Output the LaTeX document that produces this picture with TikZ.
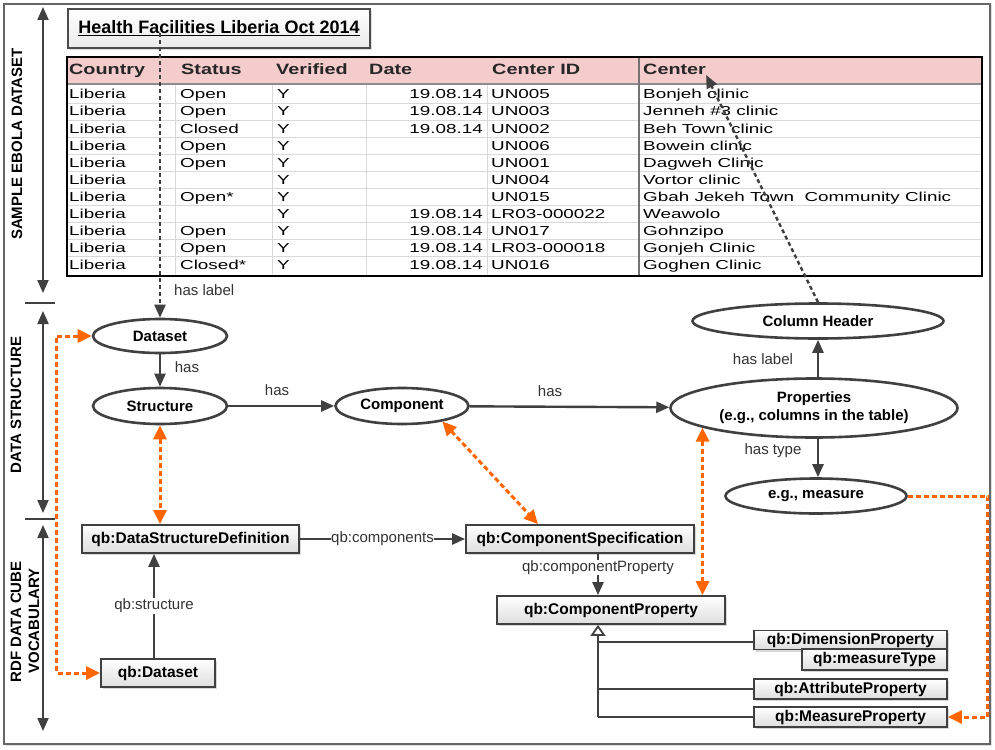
\documentclass[tikz,border=0pt]{standalone}
\usepackage{fontspec}
\setmainfont{Liberation Sans}
\newfontfamily\tabfont[FakeStretch=1.45]{Liberation Sans}
\newfontfamily\tabhfont[FakeStretch=1.32]{Liberation Sans}
\usetikzlibrary{shapes.geometric,arrows.meta,shadows,calc}
\definecolor{dg}{HTML}{404040}
\definecolor{org}{HTML}{FF6600}
\definecolor{hdr}{HTML}{F4CCCC}
\tikzset{
 ell/.style={ellipse, draw=dg, line width=2.6pt, fill=white, inner sep=0pt, align=center,
   font=\bfseries\fontsize{15}{18}\selectfont, text=black},
 qb/.style={rectangle, draw=dg, line width=1.8pt, top color=white, bottom color=black!13,
   inner sep=0pt, minimum height=28pt, font=\bfseries\fontsize{15.5}{18}\selectfont,
   drop shadow={shadow xshift=2pt, shadow yshift=-2pt, fill=black!30}},
 qbs/.style={qb, minimum height=20pt},
 lbl/.style={font=\fontsize{15}{18}\selectfont, text=black!80, inner sep=1pt},
 arr/.style={draw=dg, line width=2.4pt, -{Triangle[length=13pt,width=11pt]}},
 darr/.style={draw=dg, line width=2.4pt, dash pattern=on 4pt off 3pt, -{Triangle[length=13pt,width=11pt]}},
 oarr/.style={draw=org, line width=3pt, dash pattern=on 5pt off 3pt,
   {Triangle[length=14pt,width=13pt]}-{Triangle[length=14pt,width=13pt]}},
 oarrone/.style={draw=org, line width=3pt, dash pattern=on 5pt off 3pt,
   -{Triangle[length=14pt,width=13pt]}},
 axarr/.style={draw=dg, line width=2pt, {Triangle[length=13pt,width=11pt]}-{Triangle[length=13pt,width=11pt]}},
 tcell/.style={inner sep=0pt, anchor=west, text height=9.5pt, text depth=2.5pt,
   font=\tabfont\fontsize{13}{15}\selectfont, text=black},
 thcell/.style={inner sep=0pt, anchor=west, text height=11pt, text depth=3pt,
   font=\tabhfont\bfseries\fontsize{15}{17}\selectfont, text=black!85},
 axlbl/.style={rotate=90, inner sep=0pt, font=\bfseries\fontsize{15}{17}\selectfont, text=black},
}
\begin{document}
\begin{tikzpicture}[x=1pt,y=-1pt]
\useasboundingbox (0,0) rectangle (995,749);
% outer frame
\draw[line width=2.2pt, black!60, drop shadow={shadow xshift=1.5pt, shadow yshift=-1.5pt, fill=black!25}, fill=white] (4,4) rectangle (990,744);

% side axes
\coordinate (a1t) at (43,7);   \coordinate (a1b) at (43,293);
\coordinate (a2t) at (43,311); \coordinate (a2b) at (43,513);
\coordinate (a3t) at (43,525); \coordinate (a3b) at (43,731);
\coordinate (t1l) at (25,303); \coordinate (t1r) at (55,303);
\coordinate (t2l) at (25,519); \coordinate (t2r) at (55,519);
\draw[axarr] (a1t) -- (a1b);
\draw[axarr] (a2t) -- (a2b);
\draw[axarr] (a3t) -- (a3b);
\draw[dg, line width=2pt] (t1l) -- (t1r);
\draw[dg, line width=2pt] (t2l) -- (t2r);
\node[axlbl] (lab1) at (17,144) {SAMPLE EBOLA DATASET};
\node[axlbl] (lab2) at (16,405) {DATA STRUCTURE};
\node[axlbl] (lab3) at (16,622) {RDF DATA CUBE};
\node[axlbl] (lab4) at (34,621) {VOCABULARY};

% table
\fill[hdr] (67,57) rectangle (982,84);
\foreach \k in {1,...,10} {
  \draw[black!15, line width=1pt] (67,{86.5+17*\k}) -- (982,{86.5+17*\k});
}
\foreach \xx in {175,272,366,487} {
  \draw[black!15, line width=1pt] (\xx,84) -- (\xx,276);
}
\draw[black!45, line width=1.2pt] (67,84) -- (982,84);
\draw[black!55, line width=1.6pt] (639,57) -- (639,276);
\draw[black, line width=1.6pt] (67,57) rectangle (982,276);

\node[thcell] (hCountry) at (69,71) {Country};
\node[thcell] (hStatus) at (181,71) {Status};
\node[thcell] (hVerified) at (276,71) {Verified};
\node[thcell] (hDate) at (369,71) {Date};
\node[thcell] (hID) at (492,71) {Center ID};
\node[thcell] (hCenter) at (643,71) {Center};

\foreach \i/\s/\d/\c/\n in {
  1/Open/19.08.14/UN005/Bonjeh clinic,
  2/Open/19.08.14/UN003/Jenneh \#3 clinic,
  3/Closed/19.08.14/UN002/Beh Town clinic,
  4/Open/{}/UN006/Bowein clinic,
  5/Open/{}/UN001/Dagweh Clinic,
  6/{}/{}/UN004/Vortor clinic,
  7/Open*/{}/UN015/Gbah Jekeh Town\ \ Community Clinic,
  8/{}/19.08.14/LR03-000022/Weawolo,
  9/Open/19.08.14/UN017/Gohnzipo,
  10/Open/19.08.14/LR03-000018/Gonjeh Clinic,
  11/Closed*/19.08.14/UN016/Goghen Clinic}{
  \pgfmathsetmacro{\yy}{78.5+17*\i}
  \node[tcell] (co\i) at (69,\yy) {Liberia};
  \node[tcell] (st\i) at (180,\yy) {\s};
  \node[tcell] (ve\i) at (277,\yy) {Y};
  \node[tcell, anchor=east] (da\i) at (483,\yy) {\d};
  \node[tcell] (id\i) at (491,\yy) {\c};
  \node[tcell] (ce\i) at (643,\yy) {\n};
}

% title
\node[rectangle, draw=black!70, line width=1.4pt, top color=white, bottom color=black!8,
  minimum width=302pt, minimum height=39pt, inner sep=0pt,
  drop shadow={shadow xshift=2pt, shadow yshift=-2pt, fill=black!25},
  font=\bfseries\fontsize{18}{21}\selectfont] (title) at (219,28.5)
  {\underline{Health Facilities Liberia Oct 2014}};

% ellipses
\node[ell, minimum width=134pt, minimum height=34pt] (dataset) at (160,336) {Dataset};
\node[ell, minimum width=134pt, minimum height=36pt] (structure) at (160,406) {Structure};
\node[ell, minimum width=133pt, minimum height=36pt] (component) at (402,406) {Component};
\node[ell, minimum width=287pt, minimum height=59pt] (props) at (814,408) {Properties\\(e.g., columns in the table)};
\node[ell, minimum width=251pt, minimum height=35pt] (colhdr) at (818,321) {Column Header};
\node[ell, minimum width=181pt, minimum height=35pt] (measure) at (816,496) {e.g., measure};

% boxes
\node[qb, minimum width=217pt] (dsd) at (190.5,539) {qb:DataStructureDefinition};
\node[qb, minimum width=114pt] (qbds) at (158,673) {qb:Dataset};
\node[qb, minimum width=228pt] (cs) at (580,539) {qb:ComponentSpecification};
\node[qb, minimum width=228pt] (cp) at (611,610) {qb:ComponentProperty};
\node[qbs, minimum width=193pt, minimum height=19pt] (dp) at (850.5,640) {qb:DimensionProperty};
\node[qbs, minimum width=145pt, minimum height=21pt] (mt) at (874.5,659.5) {qb:measureType};
\node[qbs, minimum width=193pt] (ap) at (850.5,689) {qb:AttributeProperty};
\node[qbs, minimum width=193pt] (mp) at (850.5,717) {qb:MeasureProperty};

% dashed label connectors
\coordinate (hlstart) at (160,33);
\draw[darr] (hlstart) -- (dataset.north);
\node[lbl, anchor=west] (hl1) at (173,290) {has label};
\draw[darr] (colhdr.north) -- ([yshift=-4pt]hCenter.east);

% solid ellipse connectors
\draw[arr] (dataset) -- (structure);
\node[lbl] (has1) at (187,367) {has};
\draw[arr] (structure) -- (component);
\node[lbl] (has2) at (277,390) {has};
\draw[arr] (component) -- (props);
\node[lbl] (has3) at (550,391) {has};
\draw[arr] (props.north -| colhdr.south) -- (colhdr.south);
\node[lbl] (hl2) at (763,359) {has label};
\draw[arr] (props.south -| colhdr.south) -- (measure.north -| colhdr.south);
\node[lbl] (ht) at (773,451) {has type};

% box connectors
\draw[arr] (dsd) -- node[lbl, fill=white, inner sep=0.5pt] (qbc) {qb:components} (cs);
\coordinate (gv) at (598,717);
\draw[arr] (cs.south -| gv) -- node[lbl, fill=white, pos=0.33, inner sep=0.5pt] (qbcp) {qb:componentProperty} (cp.north -| gv);
\draw[arr] (qbds.north -| 154,0) -- node[lbl, fill=white, inner sep=1pt] (qbst) {qb:structure} (dsd.south -| 154,0);

% generalization
\draw[dg, line width=1.8pt, -{Triangle[open, length=11pt, width=15pt]}] (gv) -- (gv |- cp.south);
\draw[dg, line width=1.8pt] (gv |- 0,642) -- (dp.west |- 0,642);
\draw[dg, line width=1.8pt] (gv |- ap.west) -- (ap.west);
\draw[dg, line width=1.8pt] (gv) -- (mp.west);

% orange mappings
\draw[oarr] (dataset.west) -- ++(-35,0) |- (qbds.west);
\draw[oarr] (structure.south) -- (structure.south |- dsd.north);
\draw[oarr] (component.-21) -- ([xshift=-42pt]cs.north);
\draw[oarr] (props.190.7) -- (props.190.7 |- cp.north);
\draw[oarrone] (measure.east) -- ++(80,0) |- (mp.east);
\end{tikzpicture}
\end{document}
